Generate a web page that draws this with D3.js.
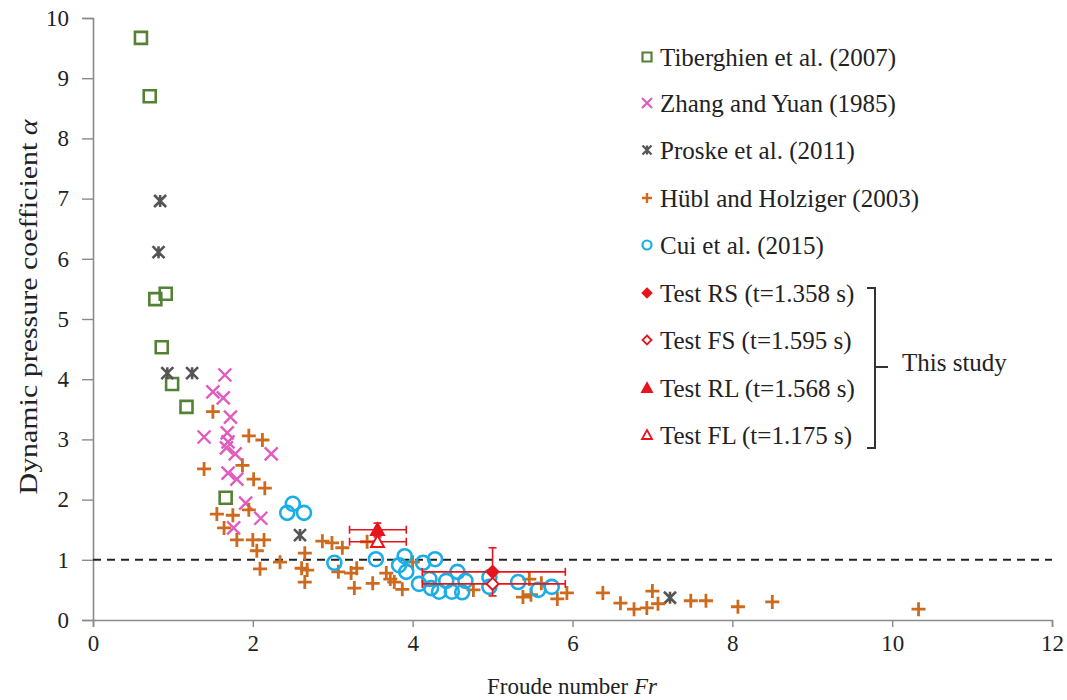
<!DOCTYPE html>
<html>
<head>
<meta charset="utf-8">
<script src="https://cdn.jsdelivr.net/npm/d3@7"></script>
<style>
  html, body { margin: 0; padding: 0; background: #fff; }
  svg { display: block; }
  text { font-family: "Liberation Serif", "Times New Roman", serif; fill: #222; }
</style>
</head>
<body>
<svg id="chart" width="1067" height="700"></svg>
<script>
// ---- Data ----
const xTicks = [0, 2, 4, 6, 8, 10, 12];
const yTicks = [0, 1, 2, 3, 4, 5, 6, 7, 8, 9, 10];

const tibX = [0.60, 0.71, 0.78, 0.91, 0.86, 0.99, 1.17, 1.66];
const tibY = [9.67, 8.70, 5.33, 5.42, 4.53, 3.92, 3.54, 2.03];

const zhangX = [1.65, 1.50, 1.63, 1.72, 1.39, 1.68, 1.69, 1.67, 1.78, 2.23, 1.69, 1.80, 1.91, 2.10, 1.76];
const zhangY = [4.07, 3.79, 3.69, 3.37, 3.04, 3.11, 2.96, 2.86, 2.76, 2.76, 2.44, 2.34, 1.94, 1.69, 1.53];

const proskeX = [0.84, 0.82, 0.93, 1.24, 2.59, 7.22];
const proskeY = [6.96, 6.11, 4.10, 4.10, 1.41, 0.37];

const hublX = [1.50, 1.95, 2.12, 1.39, 1.87, 2.01, 2.15, 1.95, 1.55, 1.75, 1.64, 1.80, 2.00, 2.14, 2.05,
  2.09, 2.34, 2.65, 2.61, 2.68, 2.65, 2.87, 2.99, 3.12, 3.07, 3.23, 3.30, 3.27, 3.50, 3.43,
  3.67, 3.72, 3.77, 3.87, 4.00, 4.76, 5.46, 5.38, 5.48, 5.61, 5.81, 5.93, 6.38, 6.60, 6.77,
  6.93, 7.07, 7.00, 7.48, 7.67, 8.07, 8.50, 10.33];
const hublY = [3.46, 3.06, 2.99, 2.51, 2.57, 2.34, 2.19, 1.83, 1.76, 1.74, 1.53, 1.33, 1.33, 1.33, 1.15,
  0.85, 0.96, 1.11, 0.86, 0.83, 0.63, 1.31, 1.28, 1.20, 0.80, 0.78, 0.86, 0.53, 0.61, 1.30,
  0.78, 0.68, 0.63, 0.51, 0.96, 0.50, 0.68, 0.38, 0.42, 0.61, 0.35, 0.45, 0.45, 0.28, 0.18,
  0.20, 0.27, 0.48, 0.32, 0.32, 0.22, 0.30, 0.18];

const cuiX = [2.43, 2.50, 2.64, 3.02, 3.54, 3.83, 3.90, 3.92, 4.13, 4.28, 4.08, 4.21, 4.23, 4.33, 4.42,
  4.49, 4.56, 4.62, 4.66, 4.96, 4.96, 5.32, 5.57, 5.74];
const cuiY = [1.78, 1.93, 1.78, 0.95, 1.01, 0.91, 1.06, 0.80, 0.95, 1.01, 0.60, 0.68, 0.53, 0.47, 0.65,
  0.47, 0.80, 0.46, 0.65, 0.71, 0.55, 0.63, 0.50, 0.55];

// Test points: value, x error range, y error range
const testNames = ["Test RS (t=1.358 s)", "Test FS (t=1.595 s)", "Test RL (t=1.568 s)", "Test FL (t=1.175 s)"];
const testX = [5.00, 5.00, 3.56, 3.56];
const testY = [0.80, 0.60, 1.50, 1.30];
const testXLo = [4.12, 4.12, 3.21, 3.21];
const testXHi = [5.91, 5.91, 3.92, 3.92];
const testYLo = [0.40, 0.60, 1.38, 1.30];
const testYHi = [1.20, 0.60, 1.61, 1.30];

const seriesNames = ["Tiberghien et al. (2007)", "Zhang and Yuan (1985)", "Proske et al. (2011)",
  "Hübl and Holziger (2003)", "Cui et al. (2015)"];

// ---- Colours ----
const cGreen = "#548235", cPink = "#e05cbf", cGray = "#555555", cOrange = "#cd6a1e",
      cCyan = "#1aaee6", cRed = "#e8141c";

const svg = d3.select("#chart");
const x = d3.scaleLinear().domain([0, 12]).range([93, 1052]);
const y = d3.scaleLinear().domain([0, 10]).range([620, 18]);

// ---- Axes ----
const axisColor = "#8a8a8a";
const gx = svg.append("g").attr("transform", `translate(0,${y(0)})`)
  .call(d3.axisBottom(x).tickValues(xTicks).tickSize(7).tickPadding(8).tickFormat(d3.format("d")));
const gy = svg.append("g").attr("transform", `translate(${x(0)},0)`)
  .call(d3.axisLeft(y).tickValues(yTicks).tickSize(11).tickPadding(13).tickFormat(d3.format("d")));
[gx, gy].forEach(g => {
  g.select(".domain").attr("stroke", axisColor).attr("stroke-width", 1.6);
  g.selectAll(".tick line").attr("stroke", axisColor).attr("stroke-width", 1.4);
  g.selectAll(".tick text").style("font-family", "'Liberation Serif', serif")
    .style("font-size", "23px").attr("fill", "#333");
});

// Axis titles
const xt = svg.append("text").attr("x", 572).attr("y", 694).attr("text-anchor", "middle")
  .style("font-size", "23px");
xt.append("tspan").text("Froude number ");
xt.append("tspan").style("font-style", "italic").text("Fr");

const yt = svg.append("text").attr("transform", "translate(37,307) rotate(-90)")
  .attr("text-anchor", "middle").style("font-size", "25px")
  .attr("textLength", 375).attr("lengthAdjust", "spacingAndGlyphs");
yt.append("tspan").text("Dynamic pressure coefficient ");
yt.append("tspan").style("font-style", "italic").text("α");

// Reference dashed line at alpha = 1
svg.append("line").attr("x1", x(0)).attr("x2", x(12)).attr("y1", y(1)).attr("y2", y(1))
  .attr("stroke", "#222").attr("stroke-width", 2).attr("stroke-dasharray", "8,6");

// ---- Marker generators ----
function squarePath(cx, cy, s) { const h = s / 2; return `M${cx - h},${cy - h}H${cx + h}V${cy + h}H${cx - h}Z`; }
function crossXPath(cx, cy, s) { const h = s / 2; return `M${cx - h},${cy - h}L${cx + h},${cy + h}M${cx - h},${cy + h}L${cx + h},${cy - h}`; }
function starPath(cx, cy, s) { const h = s / 2; return crossXPath(cx, cy, s) + `M${cx},${cy - h}V${cy + h}`; }
function plusPath(cx, cy, s) { const h = s / 2; return `M${cx - h},${cy}H${cx + h}M${cx},${cy - h}V${cy + h}`; }
function diamondPath(cx, cy, s) { const h = s / 2; return `M${cx},${cy - h}L${cx + h},${cy}L${cx},${cy + h}L${cx - h},${cy}Z`; }
function triPath(cx, cy, s) { const h = s / 2; return `M${cx},${cy - h}L${cx + h},${cy + h * 0.8}L${cx - h},${cy + h * 0.8}Z`; }

function drawSeries(xs, ys, pathFn, size, stroke, sw, fill) {
  svg.append("g").selectAll("path").data(xs.map((v, i) => [v, ys[i]])).join("path")
    .attr("d", d => pathFn(x(d[0]), y(d[1]), size))
    .attr("fill", fill || "none").attr("stroke", stroke).attr("stroke-width", sw);
}

drawSeries(tibX, tibY, squarePath, 12, cGreen, 2.6);
drawSeries(zhangX, zhangY, crossXPath, 13, cPink, 2.4);
drawSeries(proskeX, proskeY, starPath, 12, cGray, 2.6);
drawSeries(hublX, hublY, plusPath, 14, cOrange, 2.8);
svg.append("g").selectAll("circle").data(cuiX.map((v, i) => [v, cuiY[i]])).join("circle")
  .attr("cx", d => x(d[0])).attr("cy", d => y(d[1])).attr("r", 7)
  .attr("fill", "none").attr("stroke", cCyan).attr("stroke-width", 2.6);

// ---- Test points with error bars ----
const eb = svg.append("g").attr("stroke", cRed).attr("stroke-width", 1.6).attr("fill", "none");
testX.forEach((v, i) => {
  const cy = y(testY[i]);
  eb.append("line").attr("x1", x(testXLo[i])).attr("x2", x(testXHi[i])).attr("y1", cy).attr("y2", cy);
  [testXLo[i], testXHi[i]].forEach(e => eb.append("line").attr("x1", x(e)).attr("x2", x(e)).attr("y1", cy - 4).attr("y2", cy + 4));
  if (testYHi[i] !== testYLo[i]) {
    eb.append("line").attr("x1", x(v)).attr("x2", x(v)).attr("y1", y(testYLo[i])).attr("y2", y(testYHi[i]));
    [testYLo[i], testYHi[i]].forEach(e => eb.append("line").attr("x1", x(v) - 4).attr("x2", x(v) + 4).attr("y1", y(e)).attr("y2", y(e)));
  }
});
const testShapes = [
  { fn: diamondPath, fill: cRed, s: 12 }, { fn: diamondPath, fill: "#fff", s: 12 },
  { fn: triPath, fill: cRed, s: 13 }, { fn: triPath, fill: "#fff", s: 13 }];
testX.forEach((v, i) => {
  svg.append("path").attr("d", testShapes[i].fn(x(v), y(testY[i]), testShapes[i].s))
    .attr("fill", testShapes[i].fill).attr("stroke", cRed).attr("stroke-width", 2);
});

// ---- Legend ----
const legRows = [57, 103, 150, 198, 245, 293, 340, 388, 435];
const legMarkX = 647, legTextX = 660;
const leg = svg.append("g");
const legMarkers = [
  { fn: squarePath, s: 9, c: cGreen, sw: 2.2, fill: "none" },
  { fn: crossXPath, s: 10, c: cPink, sw: 2.2, fill: "none" },
  { fn: starPath, s: 9, c: cGray, sw: 2.2, fill: "none" },
  { fn: plusPath, s: 10, c: cOrange, sw: 2.4, fill: "none" },
  { fn: null, s: 9, c: cCyan, sw: 2.2, fill: "none" },
  { fn: diamondPath, s: 9, c: cRed, sw: 1.8, fill: cRed },
  { fn: diamondPath, s: 9, c: cRed, sw: 1.8, fill: "#fff" },
  { fn: triPath, s: 10, c: cRed, sw: 1.8, fill: cRed },
  { fn: triPath, s: 10, c: cRed, sw: 1.8, fill: "#fff" }];
const legLabels = seriesNames.concat(testNames);
legLabels.forEach((lab, i) => {
  const m = legMarkers[i], cy = legRows[i];
  if (m.fn) leg.append("path").attr("d", m.fn(legMarkX, cy, m.s)).attr("fill", m.fill).attr("stroke", m.c).attr("stroke-width", m.sw);
  else leg.append("circle").attr("cx", legMarkX).attr("cy", cy).attr("r", 4.5).attr("fill", "none").attr("stroke", m.c).attr("stroke-width", m.sw);
  leg.append("text").attr("x", legTextX).attr("y", cy).attr("dy", "0.35em").style("font-size", "25px").text(lab);
});

// Bracket grouping the tests
leg.append("path").attr("d", "M867,288H875V448H867M875,367H888")
  .attr("fill", "none").attr("stroke", "#333").attr("stroke-width", 2);
leg.append("text").attr("x", 902).attr("y", 362).attr("dy", "0.35em").style("font-size", "25px").text("This study");
</script>
</body>
</html>
